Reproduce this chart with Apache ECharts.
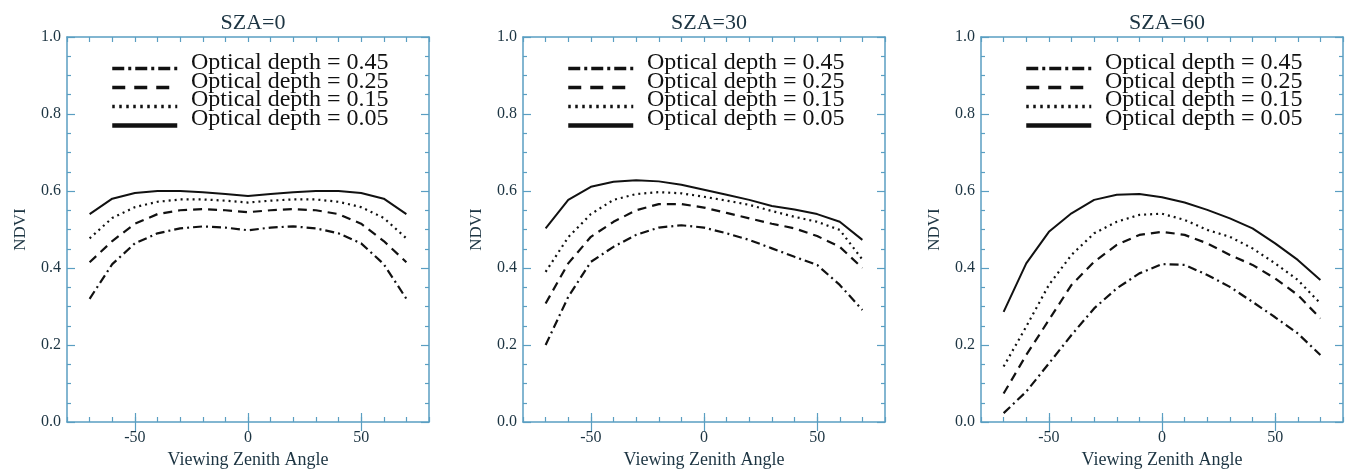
<!DOCTYPE html>
<html>
<head>
<meta charset="utf-8">
<script src="https://cdn.jsdelivr.net/npm/echarts@6/dist/echarts.min.js"></script>
<style>html,body{margin:0;padding:0;background:#fff;}#c{width:1351px;height:471px;}</style>
</head>
<body>
<div id="c"></div>
<script>
// ---- data ----
const vza = [-70, -60, -50, -40, -30, -20, -10, 0, 10, 20, 30, 40, 50, 60, 70];
const panelTitles = ['SZA=0', 'SZA=30', 'SZA=60'];
const seriesNames = ['Optical depth = 0.45', 'Optical depth = 0.25', 'Optical depth = 0.15', 'Optical depth = 0.05'];
const xTickLabels = [-50, 0, 50];
const yTickLabels = ['0.0', '0.2', '0.4', '0.6', '0.8', '1.0'];

// SZA = 0
const sza0_od045 = [0.32, 0.41, 0.464, 0.49, 0.503, 0.508, 0.505, 0.498, 0.505, 0.508, 0.503, 0.49, 0.464, 0.41, 0.32];
const sza0_od025 = [0.415, 0.47, 0.515, 0.54, 0.55, 0.553, 0.55, 0.545, 0.55, 0.553, 0.55, 0.54, 0.515, 0.47, 0.415];
const sza0_od015 = [0.477, 0.53, 0.558, 0.572, 0.578, 0.578, 0.575, 0.57, 0.575, 0.578, 0.578, 0.572, 0.558, 0.53, 0.477];
const sza0_od005 = [0.54, 0.58, 0.595, 0.60, 0.60, 0.597, 0.592, 0.587, 0.592, 0.597, 0.60, 0.60, 0.595, 0.58, 0.54];
// SZA = 30
const sza30_od045 = [0.20, 0.325, 0.416, 0.455, 0.486, 0.505, 0.511, 0.505, 0.49, 0.473, 0.451, 0.429, 0.408, 0.356, 0.291];
const sza30_od025 = [0.308, 0.412, 0.481, 0.52, 0.55, 0.566, 0.566, 0.557, 0.543, 0.529, 0.515, 0.503, 0.483, 0.455, 0.40];
const sza30_od015 = [0.39, 0.48, 0.54, 0.577, 0.592, 0.597, 0.594, 0.585, 0.575, 0.564, 0.548, 0.533, 0.52, 0.499, 0.422];
const sza30_od005 = [0.503, 0.577, 0.611, 0.624, 0.628, 0.625, 0.616, 0.603, 0.59, 0.577, 0.561, 0.552, 0.54, 0.52, 0.473];
// SZA = 60
const sza60_od045 = [0.023, 0.079, 0.152, 0.226, 0.295, 0.347, 0.386, 0.41, 0.408, 0.382, 0.351, 0.312, 0.272, 0.23, 0.174];
const sza60_od025 = [0.074, 0.174, 0.265, 0.356, 0.416, 0.46, 0.486, 0.494, 0.486, 0.464, 0.434, 0.408, 0.373, 0.33, 0.269];
const sza60_od015 = [0.144, 0.248, 0.356, 0.434, 0.49, 0.52, 0.538, 0.541, 0.525, 0.499, 0.481, 0.451, 0.412, 0.369, 0.308];
const sza60_od005 = [0.286, 0.412, 0.494, 0.542, 0.577, 0.59, 0.592, 0.584, 0.57, 0.551, 0.529, 0.503, 0.464, 0.421, 0.369];

const panels = [
  [sza0_od045, sza0_od025, sza0_od015, sza0_od005],
  [sza30_od045, sza30_od025, sza30_od015, sza30_od005],
  [sza60_od045, sza60_od025, sza60_od015, sza60_od005]
];

// ---- styles ----
const FONT = 'Liberation Serif';
const AXIS_COLOR = '#5a9ec2';
const TEXT_COLOR = '#1c3442';
const lineTypes = [[9, 4, 2, 4], [9, 6], [2, 4], 'solid'];
const legendTypes = [[12, 4, 3, 4], [13, 9], [2.5, 4.5], 'solid'];
const gridLefts = [67, 523, 981];
const gridTop = 37, gridW = 362, gridH = 385;

const option = {
  animation: false,
  backgroundColor: '#fff',
  title: [], grid: [], xAxis: [], yAxis: [], series: [], legend: []
};

panels.forEach((lines, p) => {
  const L = gridLefts[p];
  option.title.push({
    text: panelTitles[p], left: L + gridW / 2, top: 7, textAlign: 'center',
    textStyle: {fontFamily: FONT, fontSize: 22, fontWeight: 'normal', color: TEXT_COLOR}
  });
  option.grid.push({left: L, top: gridTop, width: gridW, height: gridH, containLabel: false, outerBoundsMode: 'none'});
  const xBase = {
    type: 'value', gridIndex: p, min: -80, max: 80, interval: 10,
    splitLine: {show: false},
    axisLine: {show: true, onZero: false, lineStyle: {color: AXIS_COLOR, width: 1.5}},
    axisTick: {show: true, inside: true, length: 5, lineStyle: {color: AXIS_COLOR, width: 1.2}},
    axisLabel: {show: false}
  };
  const xi = option.xAxis.length;
  option.xAxis.push(Object.assign({}, xBase, {
    position: 'bottom',
    name: 'Viewing Zenith Angle', nameLocation: 'middle', nameGap: 28,
    nameTextStyle: {fontFamily: FONT, fontSize: 18, color: TEXT_COLOR},
    axisLabel: {show: true, fontFamily: FONT, fontSize: 16, color: TEXT_COLOR, margin: 8,
      customValues: xTickLabels, formatter: v => String(v)}
  }));
  option.xAxis.push(Object.assign({}, xBase, {
    position: 'bottom', axisLine: {show: false},
    axisTick: {show: true, inside: true, length: 9, customValues: xTickLabels, lineStyle: {color: AXIS_COLOR, width: 1.2}}
  }));
  option.xAxis.push(Object.assign({}, xBase, {position: 'top'}));
  option.xAxis.push(Object.assign({}, xBase, {
    position: 'top', axisLine: {show: false},
    axisTick: {show: true, inside: true, length: 9, customValues: xTickLabels, lineStyle: {color: AXIS_COLOR, width: 1.2}}
  }));
  const yBase = {
    type: 'value', gridIndex: p, min: 0, max: 1, interval: 0.2,
    splitLine: {show: false},
    axisLine: {show: true, onZero: false, lineStyle: {color: AXIS_COLOR, width: 1.5}},
    axisTick: {show: true, inside: true, length: 8, lineStyle: {color: AXIS_COLOR, width: 1.2}},
    minorTick: {show: true, splitNumber: 4, length: 4, lineStyle: {color: AXIS_COLOR, width: 1.2}},
    axisLabel: {show: false}
  };
  const yi = option.yAxis.length;
  option.yAxis.push(Object.assign({}, yBase, {
    position: 'left',
    name: 'NDVI', nameLocation: 'middle', nameGap: 38, nameRotate: 90,
    nameTextStyle: {fontFamily: FONT, fontSize: 17, color: TEXT_COLOR},
    axisLabel: {show: true, fontFamily: FONT, fontSize: 16, color: TEXT_COLOR, margin: 6,
      formatter: v => yTickLabels[Math.round(v / 0.2)]}
  }));
  option.yAxis.push(Object.assign({}, yBase, {position: 'right'}));

  lines.forEach((vals, k) => {
    option.series.push({
      type: 'line', name: seriesNames[k], xAxisIndex: xi, yAxisIndex: yi,
      data: vza.map((x, i) => [x, vals[i]]),
      symbol: 'none', smooth: false,
      lineStyle: {color: '#111', width: k === 3 ? 2 : 2.2, type: lineTypes[k]},
      itemStyle: {color: '#111'},
      z: 3
    });
  });

  // legend line samples
  option.legend.push({
    orient: 'vertical', left: L + 43, top: 59, padding: 0,
    itemWidth: 65, itemHeight: 18.8, itemGap: 0,
    selectedMode: false,
    itemStyle: {opacity: 0},
    formatter: () => ' ',
    data: seriesNames.map((n, k) => ({name: n, lineStyle: {width: k === 3 ? 4.5 : 3.5, type: legendTypes[k], color: '#111'}})),
    textStyle: {fontFamily: FONT, fontSize: 18.8, color: '#111'}
  });
  // legend texts
  option.legend.push({
    orient: 'vertical', left: L + 118, top: 51, padding: 0,
    itemWidth: 1, itemHeight: 10, itemGap: -5.4,
    selectedMode: false, icon: 'none',
    data: seriesNames.map(n => ({name: n, icon: 'none'})),
    textStyle: {fontFamily: FONT, fontSize: 24, color: '#111'}
  });
});

const chart = echarts.init(document.getElementById('c'), null, {renderer: 'canvas'});
chart.setOption(option);
</script>
</body>
</html>
